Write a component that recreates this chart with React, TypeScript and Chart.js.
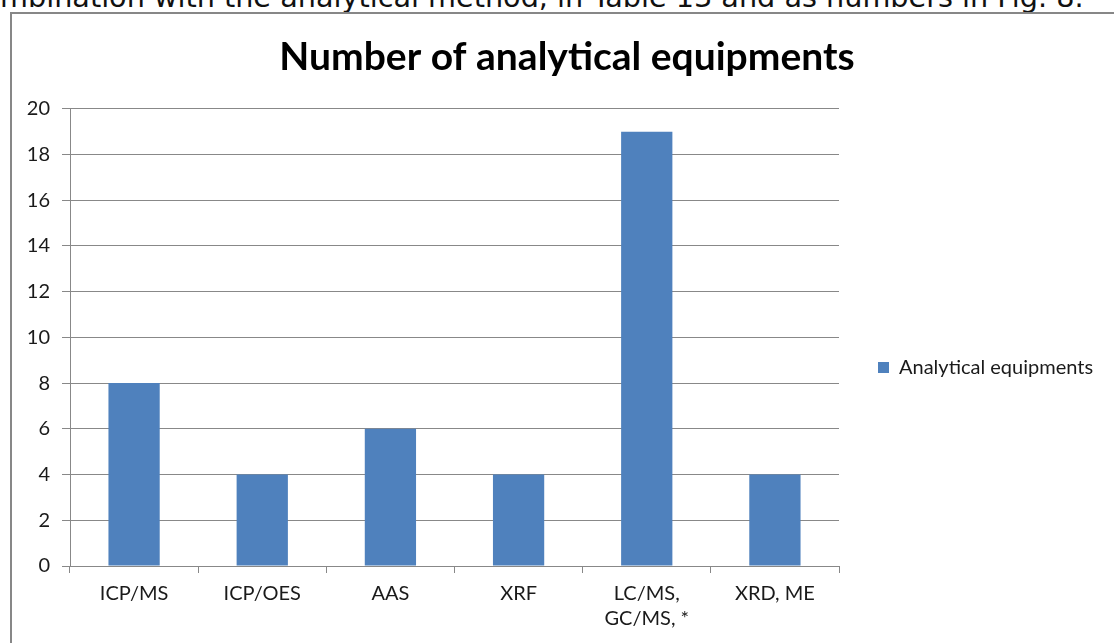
import React, { useEffect, useRef } from "react";
import { Chart, registerables } from "chart.js";

Chart.register(...registerables);

const categories: (string | string[])[] = ["ICP/MS", "ICP/OES", "AAS", "XRF", ["LC/MS,", "GC/MS, *"], "XRD, ME"];
const equipmentCounts: number[] = [8, 4, 6, 4, 19, 4];
const seriesName = "Analytical equipments";
const chartTitle = "Number of analytical equipments";
const yMin = 0;
const yMax = 20;
const yStep = 2;
const pageText = "mbination with the analytical method, in Table 13 and as numbers in Fig. 8.";

const FONT = "Lato";
const LABEL_SIZE = 20;
const LEGEND_PAD = 39;
const LEGEND_BOX = 11;
const PLOT_RIGHT = 839;
const W = 1114;
const H = 643;
const CANVAS_W = 1134;
const LEGEND_DY = 46;

export default function App() {
  const ref = useRef<HTMLCanvasElement | null>(null);

  useEffect(() => {
    const canvas = ref.current;
    if (!canvas) return;

    const legendLayout = {
      id: "legendLayout",
      beforeLayout(chart: any) {
        const l = chart.legend;
        if (l && !l.__wrapped) {
          const orig = l.fit.bind(l);
          l.fit = () => {
            orig();
            l.width = CANVAS_W - PLOT_RIGHT;
          };
          l.__wrapped = true;
        }
      },
      afterLayout(chart: any) {
        const l = chart.legend;
        if (l) {
          l.top += LEGEND_DY;
          l.bottom += LEGEND_DY;
        }
      },
    };

    const chart = new Chart(canvas, {
      type: "bar",
      data: {
        labels: categories as any,
        datasets: [
          {
            label: seriesName,
            data: equipmentCounts,
            backgroundColor: "#4f81bd",
            borderWidth: 0,
            barPercentage: 0.4,
            categoryPercentage: 1,
          },
        ],
      },
      options: {
        animation: false,
        responsive: false,
        maintainAspectRatio: false,
        layout: { padding: { left: 0, top: 0, bottom: 0, right: 0 } },
        plugins: {
          title: {
            display: true,
            text: chartTitle,
            color: "#000",
            font: { family: FONT, size: 39, weight: "bold", lineHeight: 1.2 },
            padding: { top: 34, bottom: 28 },
          },
          legend: {
            display: true,
            position: "right",
            labels: {
              boxWidth: LEGEND_BOX,
              boxHeight: LEGEND_BOX,
              padding: LEGEND_PAD,
              color: "#1a1a1a",
              font: { family: FONT, size: LABEL_SIZE },
            },
          },
          tooltip: { enabled: false },
        },
        scales: {
          x: {
            offset: true,
            grid: {
              offset: true,
              drawOnChartArea: false,
              drawTicks: true,
              tickLength: 7,
              color: "#888888",
            },
            border: { display: true, color: "#888888" },
            ticks: {
              color: "#1a1a1a",
              padding: 8,
              maxRotation: 0,
              autoSkip: false,
              font: { family: FONT, size: LABEL_SIZE, lineHeight: 25 / LABEL_SIZE },
            },
            afterFit: (s: any) => {
              s.height = 77;
            },
          },
          y: {
            min: yMin,
            max: yMax,
            grid: { color: "#888888", tickLength: 8, drawTicks: true },
            border: { display: true, color: "#888888" },
            ticks: {
              stepSize: yStep,
              color: "#1a1a1a",
              padding: 12,
              font: { family: FONT, size: LABEL_SIZE },
            },
            afterFit: (s: any) => {
              s.width = 70;
            },
          },
        },
      },
      plugins: [legendLayout],
    });
    return () => chart.destroy();
  }, []);

  return (
    <div style={{ position: "fixed", left: 0, top: 0, width: W, height: H, overflow: "hidden", background: "#fff" }}>
      <div
        style={{
          position: "absolute",
          left: 0,
          top: -17,
          whiteSpace: "nowrap",
          fontFamily: "DejaVu Sans",
          fontSize: 28.7,
          lineHeight: "28px",
          color: "#111",
        }}
      >
        {pageText}
      </div>
      <div
        style={{
          position: "absolute",
          left: 10,
          top: 12,
          width: 1300,
          height: 900,
          border: "2px solid #878787",
          boxSizing: "border-box",
        }}
      />
      <canvas
        ref={ref}
        width={CANVAS_W}
        height={H}
        style={{ position: "absolute", left: 0, top: 0, width: CANVAS_W, height: H }}
      />
    </div>
  );
}
